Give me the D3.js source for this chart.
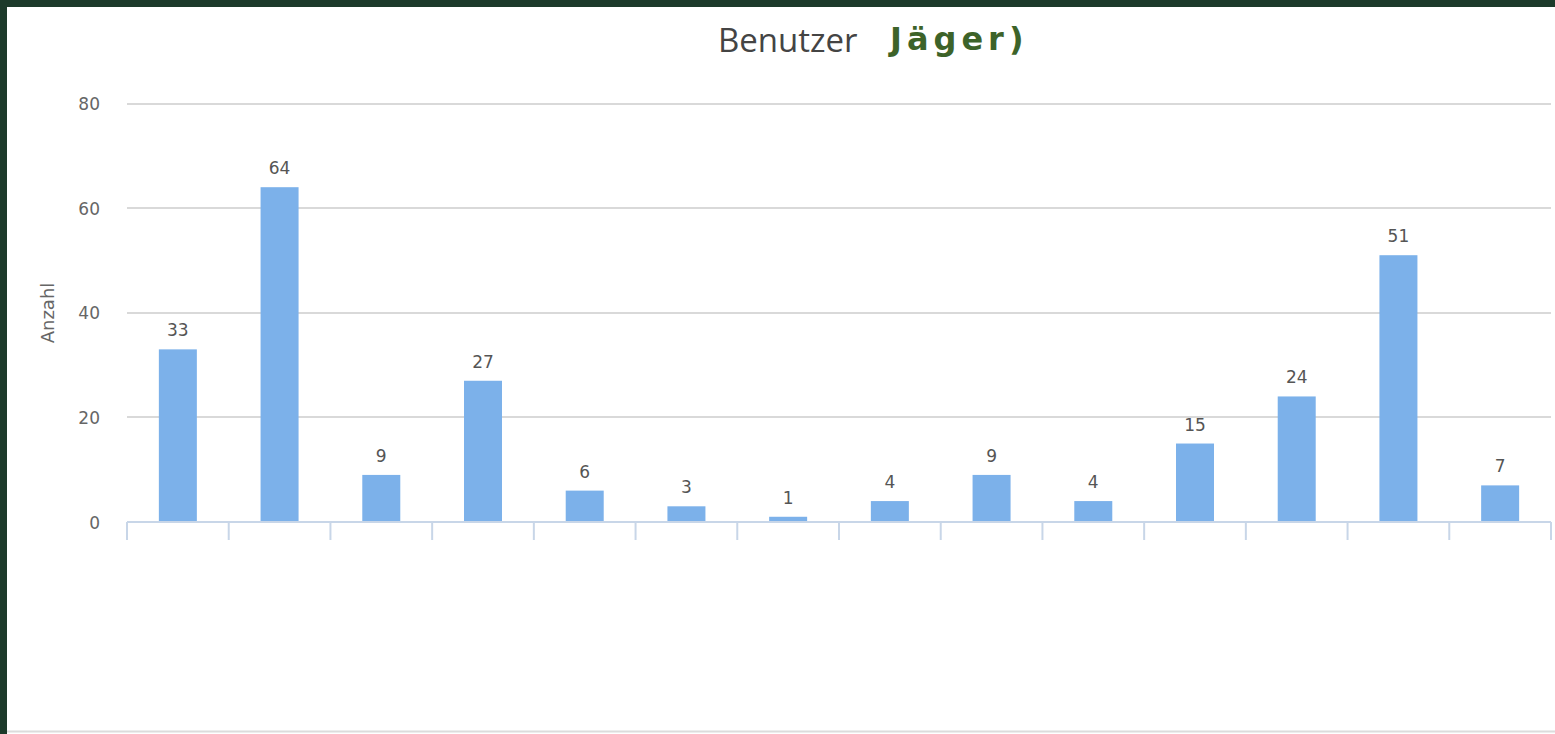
<!DOCTYPE html>
<html><head><meta charset="utf-8">
<script src="https://cdn.jsdelivr.net/npm/d3@7"></script>
<style>
html,body{margin:0;padding:0;background:#1c3a2a;}
svg{display:block;}
</style></head><body>
<svg id="c" width="1555" height="734"></svg>
<script>
const categories = ["A","B","C","D","E","F","G","H","I","J","K","L","M","N"];
const values = [33,64,9,27,6,3,1,4,9,4,15,24,51,7];
const yTicks = [0,20,40,60,80];
const titleMain = "Benutzer";
const titleName = "Jäger)";
const yLabel = "Anzahl";

const svg = d3.select("#c");
svg.append("rect").attr("x",7).attr("y",7).attr("width",1548).attr("height",727).attr("fill","#ffffff");
svg.append("line").attr("x1",7).attr("x2",1555).attr("y1",731.5).attr("y2",731.5).attr("stroke","#dcdcdc").attr("stroke-width",2);

const x = d3.scaleBand().domain(categories).range([127,1551]).paddingInner(0).paddingOuter(0);
const y = d3.scaleLinear().domain([0,80]).range([522,103.5]);

// gridlines
svg.append("g").selectAll("line").data(yTicks.filter(d=>d>0)).join("line")
  .attr("x1",127).attr("x2",1551)
  .attr("y1",d=>Math.round(y(d))).attr("y2",d=>Math.round(y(d)))
  .attr("stroke","#d9d9d9").attr("stroke-width",2);

// y axis labels
const yAxis = d3.axisLeft(y).tickValues(yTicks).tickSize(0).tickPadding(0);
const yg = svg.append("g").attr("transform","translate(100,0)").call(yAxis);
yg.select(".domain").remove();
yg.attr("font-family",null).attr("font-size",null);
yg.selectAll("text").attr("font-family","'DejaVu Sans', sans-serif").attr("font-size",17).attr("fill","#666").attr("dy","0.36em");

// bars
svg.append("g").selectAll("rect").data(values).join("rect")
  .attr("x",(d,i)=>x(categories[i])+x.bandwidth()/2-19)
  .attr("width",38)
  .attr("y",d=>y(d))
  .attr("height",d=>y(0)-y(d))
  .attr("fill","#7cb1ea");

// value labels
svg.append("g").selectAll("text").data(values).join("text")
  .attr("x",(d,i)=>x(categories[i])+x.bandwidth()/2)
  .attr("y",d=>y(d)-13)
  .attr("text-anchor","middle")
  .attr("font-family","'DejaVu Sans', sans-serif")
  .attr("font-size",17).attr("fill","#555")
  .text(d=>d);

// x axis
const xAxis = d3.axisBottom(x).tickSize(18).tickFormat("");
const xg = svg.append("g").attr("transform","translate(0,522)").call(xAxis);
xg.select(".domain").attr("stroke","#c8d6e8").attr("stroke-width",2).attr("d","M127,0H1551");
xg.selectAll(".tick line").remove();
xg.selectAll("line.b").data(d3.range(categories.length+1)).join("line").attr("class","b")
  .attr("x1",i=>127+i*x.bandwidth()).attr("x2",i=>127+i*x.bandwidth())
  .attr("y1",0).attr("y2",18).attr("stroke","#c8d6e8").attr("stroke-width",2);

// y label
svg.append("text").attr("transform","translate(54,313) rotate(-90)")
  .attr("text-anchor","middle")
  .attr("font-family","'DejaVu Sans', sans-serif")
  .attr("font-size",18).attr("fill","#666").text(yLabel);

// title
svg.append("text").attr("x",718).attr("y",52)
  .attr("font-family","'Open Sans', 'DejaVu Sans', sans-serif")
  .attr("font-size",33).attr("fill","#444").text(titleMain);
svg.append("text").attr("x",890).attr("y",50)
  .attr("font-family","'DejaVu Sans', sans-serif").attr("font-weight","bold")
  .attr("letter-spacing","5px")
  .attr("font-size",32).attr("fill","#3d6329").text(titleName);
</script>
</body></html>
